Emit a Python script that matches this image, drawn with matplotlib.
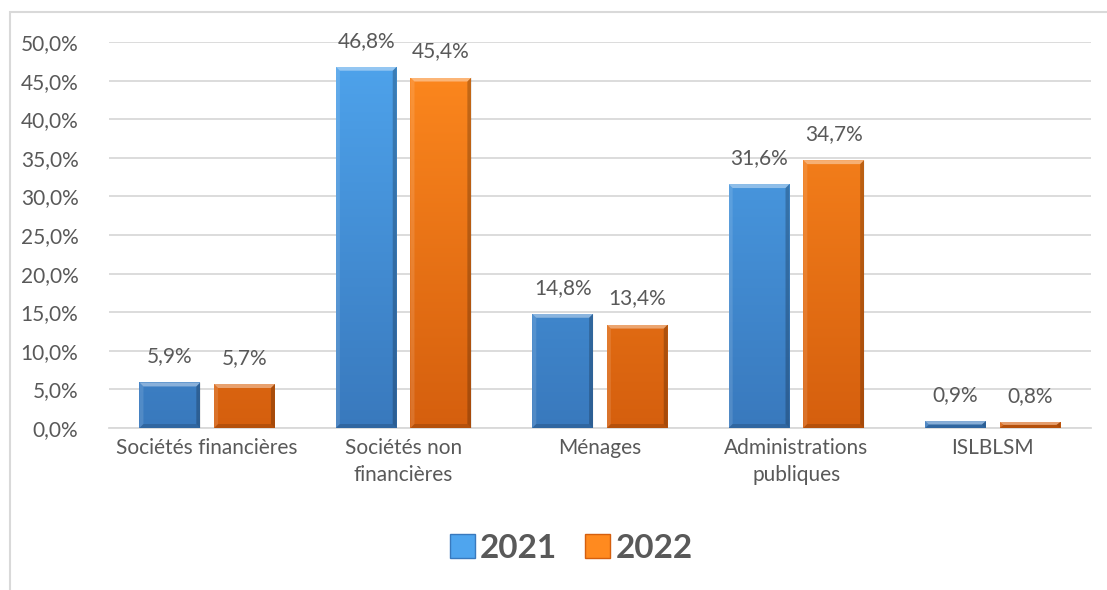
import numpy as np
import matplotlib
matplotlib.use('Agg')
import matplotlib.pyplot as plt
from matplotlib.patches import Polygon, Rectangle, Patch
from matplotlib.colors import LinearSegmentedColormap

categories = ['Sociétés financières', 'Sociétés non\nfinancières', 'Ménages',
              'Administrations\npubliques', 'ISLBLSM']
years = ['2021', '2022']
v2021 = [5.9, 46.8, 14.8, 31.6, 0.9]
v2022 = [5.7, 45.4, 13.4, 34.7, 0.8]
yticks = [0, 5, 10, 15, 20, 25, 30, 35, 40, 45, 50]

plt.rcParams['font.family'] = ['Lato', 'DejaVu Sans']
txt = '#595959'
grid = '#D9D9D9'

# top, bottom colours of each series gradient
blue = ('#4FA5EE', '#3979BD')
orange = ('#FF8A1F', '#D55F0E')

fig = plt.figure(figsize=(11.07, 5.90), dpi=100)
ax = fig.add_axes([109 / 1107, 1 - 428 / 590, (1091 - 109) / 1107, (428 - 42) / 590])

# chart border (cut off at right and bottom like the original)
fig.patches.append(Rectangle((10 / 1107, -0.1), 1.2, 1 - 12 / 590 + 0.1,
                             transform=fig.transFigure, fill=False,
                             edgecolor=grid, lw=1.5))

x = np.arange(len(categories))
w = 0.31
off = 0.19

ax.set_xlim(-0.5, len(categories) - 0.5)
ax.set_ylim(0, 50)

# bevel sizes in data units (about 4 px)
dx = 4 / 196.4
dy = 4 / 7.72


def bevel_bar(xc, h, cols):
    x0, x1 = xc - w / 2, xc + w / 2
    cmap = LinearSegmentedColormap.from_list('g', [cols[1], cols[0]])
    rect = Rectangle((x0, 0), w, h, facecolor='none', edgecolor='none', zorder=3)
    ax.add_patch(rect)
    img = ax.imshow(np.linspace(0, 1, 256).reshape(-1, 1), cmap=cmap, aspect='auto',
                    extent=(x0, x1, 0, 50), origin='lower', zorder=3)
    img.set_clip_path(rect)
    by = min(dy, h / 2)
    bx = dx
    top = Polygon([(x0, h), (x1, h), (x1 - bx, h - by), (x0 + bx, h - by)],
                  closed=True, facecolor='white', alpha=0.4, edgecolor='none', zorder=4)
    left = Polygon([(x0, 0), (x0, h), (x0 + bx, h - by), (x0 + bx, by)],
                   closed=True, facecolor='white', alpha=0.12, edgecolor='none', zorder=4)
    right = Polygon([(x1, 0), (x1, h), (x1 - bx, h - by), (x1 - bx, by)],
                    closed=True, facecolor='black', alpha=0.22, edgecolor='none', zorder=4)
    bot = Polygon([(x0, 0), (x1, 0), (x1 - bx, by), (x0 + bx, by)],
                  closed=True, facecolor='black', alpha=0.15, edgecolor='none', zorder=4)
    for p in (top, left, right, bot):
        ax.add_patch(p)
    ax.annotate(f'{h:.1f}%'.replace('.', ','), (xc, h), xytext=(0, 11.5),
                textcoords='offset points', ha='center', va='bottom',
                fontsize=15, color=txt)


for i in range(len(categories)):
    bevel_bar(x[i] - off, v2021[i], blue)
    bevel_bar(x[i] + off, v2022[i], orange)

ax.set_yticks(yticks)
ax.set_yticklabels([f'{t:.1f}%'.replace('.', ',') for t in yticks], fontsize=15, color=txt)
ax.set_xticks(x)
ax.set_xticklabels(categories, fontsize=15, color=txt, linespacing=1.45)
ax.tick_params(axis='both', length=0)
ax.tick_params(axis='y', pad=22)
ax.tick_params(axis='x', pad=7)
ax.grid(axis='y', color=grid, lw=1.3)
ax.set_axisbelow(True)
for s in ['top', 'right', 'left']:
    ax.spines[s].set_visible(False)
ax.spines['bottom'].set_color(grid)
ax.spines['bottom'].set_linewidth(1.3)
ax.spines['bottom'].set_zorder(2)

handles = [Patch(facecolor=blue[0], edgecolor=blue[1]),
           Patch(facecolor=orange[0], edgecolor=orange[1])]
leg = fig.legend(handles, years, loc='center', bbox_to_anchor=(0.516, 0.071),
                 ncol=2, frameon=False, handlelength=0.75, handleheight=0.7,
                 handletextpad=0.15, columnspacing=0.85,
                 prop={'size': 24, 'weight': 'bold'})
for t in leg.get_texts():
    t.set_color(txt)

fig.savefig('out.png', dpi=100)
